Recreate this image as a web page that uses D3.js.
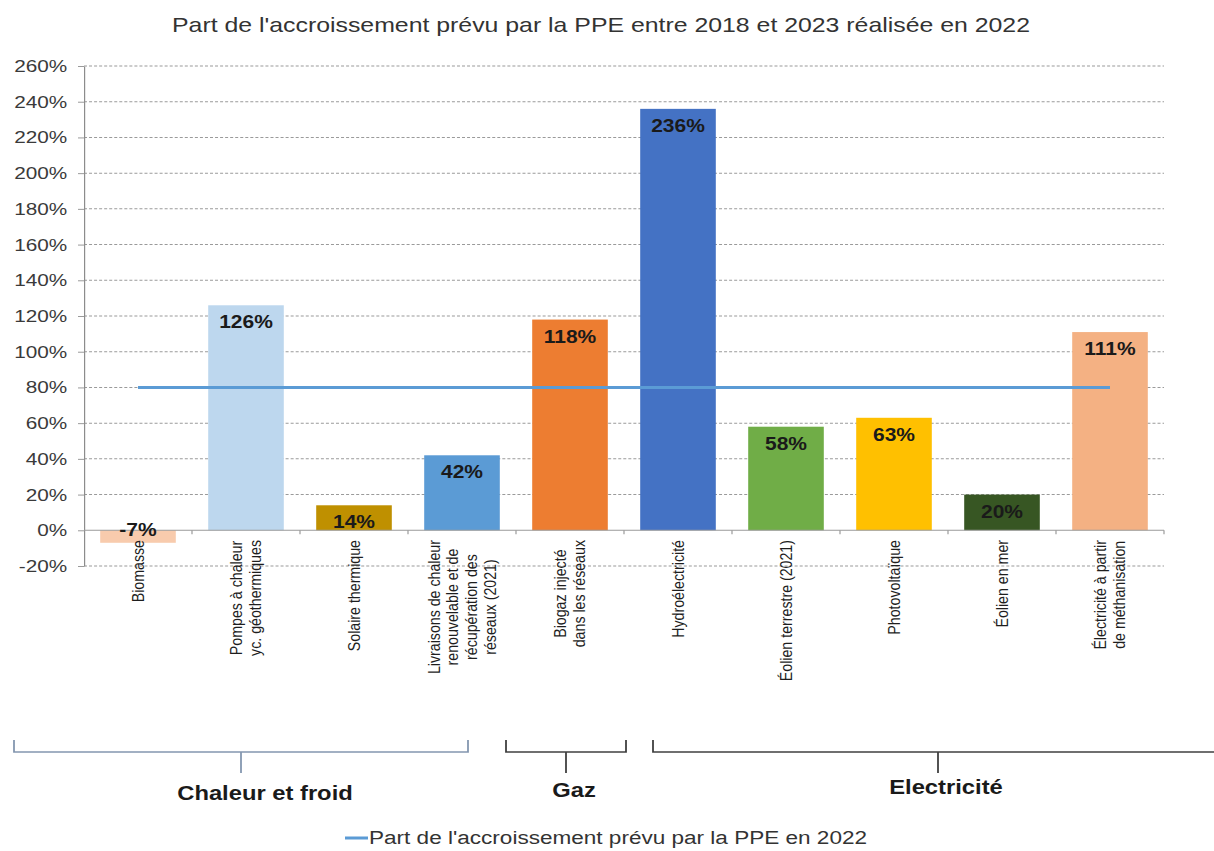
<!DOCTYPE html>
<html>
<head>
<meta charset="utf-8">
<script src="https://cdn.jsdelivr.net/npm/d3@7"></script>
<style>
  html, body { margin: 0; padding: 0; background: #fff; }
  svg { display: block; font-family: "Liberation Sans", Arial, sans-serif; }
</style>
</head>
<body>
<svg id="chart" width="1214" height="851"></svg>
<script>
// ---------- data ----------
const categories = [
  "Biomasse",
  "Pompes à chaleur\nyc. géothermiques",
  "Solaire thermique",
  "Livraisons de chaleur\nrenouvelable et de\nrécupération des\nréseaux (2021)",
  "Biogaz injecté\ndans les réseaux",
  "Hydroélectricité",
  "Éolien terrestre (2021)",
  "Photovoltaïque",
  "Éolien en mer",
  "Électricité à partir\nde méthanisation"
];
const values = [-7, 126, 14, 42, 118, 236, 58, 63, 20, 111];
const barColors = ["#f8cbad", "#bdd7ee", "#bf9000", "#5b9bd5", "#ed7d31",
                   "#4472c4", "#70ad47", "#ffc000", "#375623", "#f4b183"];
const targetValue = 80;
const yTicks = [-20, 0, 20, 40, 60, 80, 100, 120, 140, 160, 180, 200, 220, 240, 260];
const groupNames = ["Chaleur et froid", "Gaz", "Electricité"];
const titleText = "Part de l'accroissement prévu par la PPE entre 2018 et 2023 réalisée en 2022";
const legendText = "Part de l'accroissement prévu par la PPE en 2022";

// ---------- layout (screen px) ----------
const W = 1214, H = 851;
const sx = 1.2; // horizontal stretch of the reference
const plotL = 84, plotR = 1164, plotT = 66, plotB = 566;
const catLabelTop = 540;
const bracketSpans = [[14, 468], [506, 626], [653, 1224]];
const bracketStemX = [241, 566, 938];
const bracketColors = ["#8497b0", "#404040", "#404040"];
const groupLabelX = [265, 574, 946];
const groupLabelY = [800, 797, 794];
const bracketTop = 740, bracketBottom = 752, stemBottom = 773;

const svg = d3.select("#chart");
const root = svg.append("g").attr("transform", `scale(${sx},1)`);
const X = v => v / sx; // screen -> inner

const x = d3.scaleBand().domain(categories)
  .range([X(plotL), X(plotR)]).paddingInner(0.3).paddingOuter(0.15);
const y = d3.scaleLinear().domain([-20, 260]).range([plotB, plotT]);

// title
root.append("text")
  .attr("x", X(601)).attr("y", 32)
  .attr("text-anchor", "middle")
  .attr("font-size", 20.7).attr("fill", "#333")
  .text(titleText);

// gridlines
root.append("g").selectAll("line")
  .data(yTicks.filter(d => d !== 0))
  .join("line")
  .attr("x1", X(plotL)).attr("x2", X(plotR))
  .attr("y1", d => y(d)).attr("y2", d => y(d))
  .attr("stroke", "#9a9a9a").attr("stroke-width", 1)
  .attr("stroke-dasharray", "2.5,1.7");

// y axis
const yAxis = root.append("g")
  .attr("transform", `translate(${X(plotL)},0)`)
  .call(d3.axisLeft(y).tickValues(yTicks).tickFormat(d => d + "%")
    .tickSize(5).tickSizeOuter(0).tickPadding(9));
yAxis.select(".domain").attr("stroke", "#8c8c8c");
yAxis.selectAll(".tick line").attr("stroke", "#9a9a9a");
yAxis.selectAll(".tick text")
  .attr("font-size", 17.3).attr("fill", "#3a3a3a")
  .attr("font-family", "'Liberation Sans', Arial, sans-serif");

// bars
root.append("g").selectAll("rect")
  .data(categories)
  .join("rect")
  .attr("x", d => x(d))
  .attr("width", x.bandwidth())
  .attr("y", (d, i) => y(Math.max(0, values[i])))
  .attr("height", (d, i) => Math.abs(y(values[i]) - y(0)))
  .attr("fill", (d, i) => barColors[i]);

// zero axis line + ticks at band boundaries
root.append("line")
  .attr("x1", X(plotL)).attr("x2", X(plotR))
  .attr("y1", y(0)).attr("y2", y(0))
  .attr("stroke", "#9a9a9a").attr("stroke-width", 1);
const bounds = categories.map(c => x(c) - x.step() * x.paddingInner() / 2);
bounds.push(x(categories[categories.length - 1]) + x.bandwidth() + x.step() * x.paddingInner() / 2);
root.append("g").selectAll("line")
  .data(bounds.slice(1))
  .join("line")
  .attr("x1", d => d).attr("x2", d => d)
  .attr("y1", y(0)).attr("y2", y(0) + 4)
  .attr("stroke", "#9a9a9a");

// target line
root.append("line")
  .attr("x1", x(categories[0]) + x.bandwidth() / 2)
  .attr("x2", x(categories[categories.length - 1]) + x.bandwidth() / 2)
  .attr("y1", y(targetValue)).attr("y2", y(targetValue))
  .attr("stroke", "#5b9bd5").attr("stroke-width", 3);

// value labels
root.append("g").selectAll("text")
  .data(categories)
  .join("text")
  .attr("x", d => x(d) + x.bandwidth() / 2)
  .attr("y", (d, i) => values[i] >= 0 ? y(values[i]) + 23 : y(0) + 6)
  .attr("text-anchor", "middle")
  .attr("font-size", 17.5).attr("font-weight", "bold").attr("fill", "#1a1a1a")
  .text((d, i) => values[i] + "%");

// category labels (rotated, multi-line, centered block ending at catLabelTop)
const lineH = 15.8;
categories.forEach(c => {
  const lines = c.split("\n");
  const g = root.append("g")
    .attr("transform", `translate(${x(c) + x.bandwidth() / 2},${catLabelTop}) rotate(-90)`);
  const texts = g.selectAll("text").data(lines).join("text")
    .attr("font-size", 14.2).attr("fill", "#1e1e1e")
    .attr("text-anchor", "middle")
    .attr("dy", "0.35em")
    .attr("y", (d, i) => (i - (lines.length - 1) / 2) * lineH)
    .text(d => d);
  let maxLen = 0;
  texts.each(function () { maxLen = Math.max(maxLen, this.getComputedTextLength()); });
  texts.attr("x", -maxLen / 2);
});

// group brackets
groupNames.forEach((name, i) => {
  const [a, b] = bracketSpans[i];
  root.append("path")
    .attr("d", `M${X(a)},${bracketTop}V${bracketBottom}H${X(b)}V${bracketTop}`)
    .attr("fill", "none").attr("stroke", bracketColors[i]).attr("stroke-width", 1.5);
  root.append("line")
    .attr("x1", X(bracketStemX[i])).attr("x2", X(bracketStemX[i]))
    .attr("y1", bracketBottom).attr("y2", stemBottom)
    .attr("stroke", bracketColors[i]).attr("stroke-width", 1.5);
  root.append("text")
    .attr("x", X(groupLabelX[i])).attr("y", groupLabelY[i])
    .attr("text-anchor", "middle")
    .attr("font-size", 19.8).attr("font-weight", "bold").attr("fill", "#1a1a1a")
    .text(name);
});

// legend
root.append("line")
  .attr("x1", X(345)).attr("x2", X(368))
  .attr("y1", 838).attr("y2", 838)
  .attr("stroke", "#5b9bd5").attr("stroke-width", 3);
root.append("text")
  .attr("x", X(369)).attr("y", 844)
  .attr("font-size", 18.8).attr("fill", "#333")
  .text(legendText);
</script>
</body>
</html>
